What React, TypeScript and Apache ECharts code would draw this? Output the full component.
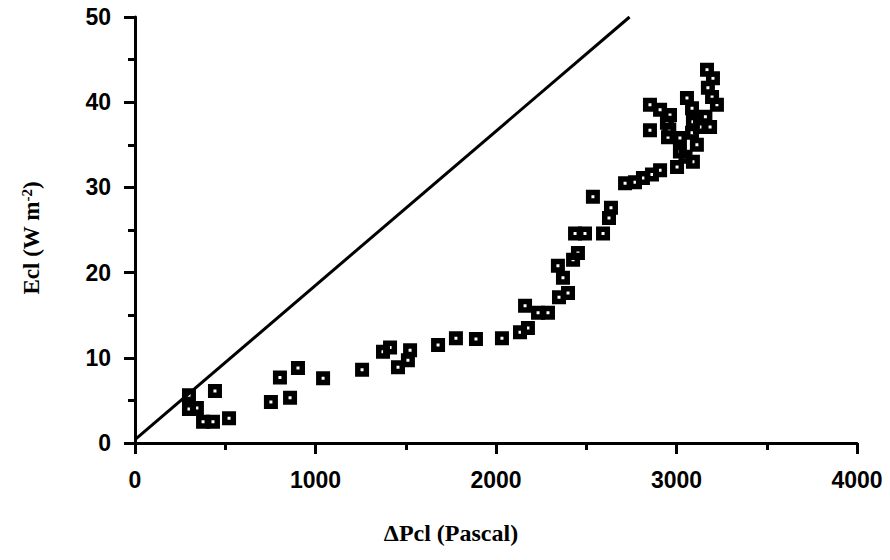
import React, { useEffect, useRef } from "react";
import * as echarts from "echarts";

const xTicks = [0, 1000, 2000, 3000, 4000];
const yTicks = [0, 10, 20, 30, 40, 50];

const pressure = [
  299, 299, 343, 443, 377, 432, 521, 753, 859, 803, 903, 1042,
  1258, 1374, 1413, 1457, 1512, 1524, 1679, 1778, 1889, 2033, 2133, 2177,
  2161, 2233, 2288, 2349, 2399, 2371, 2343, 2427, 2454, 2438, 2493, 2593,
  2626, 2637, 2537,
  2715, 2770, 2814, 2864, 2909, 3003, 3091, 3019, 3113, 3019, 3086, 3130,
  3186, 3091, 3086, 3058, 2853, 2909, 2964, 2947, 2853, 2953, 3169, 3202,
  3174, 3197, 3224, 3160, 3050, 2960,
];
const energy = [
  5.6, 4.0, 4.1, 6.1, 2.5, 2.5, 2.9, 4.8, 5.3, 7.7, 8.8, 7.6,
  8.6, 10.7, 11.2, 8.9, 9.7, 10.9, 11.5, 12.3, 12.2, 12.3, 13.0, 13.5,
  16.1, 15.3, 15.3, 17.1, 17.6, 19.4, 20.8, 21.5, 22.3, 24.6, 24.6, 24.6,
  26.4, 27.6, 28.9,
  30.5, 30.6, 31.1, 31.5, 32.0, 32.4, 33.0, 34.2, 35.0, 35.8, 36.4, 37.1,
  37.1, 37.7, 39.3, 40.5, 39.7, 39.1, 38.5, 37.6, 36.7, 35.9, 43.8, 42.8,
  41.7, 40.6, 39.7, 38.3, 33.6, 36.8,
];
const lineX = [0, 2740];
const lineY = [0.4, 50];

const boxSymbol = "path://M0,0L14,0L14,14L0,14ZM5.5,5.5L5.5,8.5L8.5,8.5L8.5,5.5Z";

export default function App() {
  const ref = useRef<HTMLDivElement>(null);
  useEffect(() => {
    if (!ref.current) return;
    const chart = echarts.init(ref.current, null, { renderer: "svg" });
    const tickFont = {
      fontFamily: "Liberation Sans",
      fontWeight: "bold" as const,
      fontSize: 23,
      color: "#000",
      formatter: (v: number) => String(v),
    };
    chart.setOption({
      animation: false,
      backgroundColor: "#fff",
      grid: { left: 135, right: 33, top: 17, bottom: 117, containLabel: false },
      xAxis: {
        type: "value",
        min: xTicks[0],
        max: xTicks[xTicks.length - 1],
        interval: 1000,
        axisLine: { lineStyle: { color: "#000", width: 3 } },
        axisTick: { show: true, length: 11, lineStyle: { color: "#000", width: 3 } },
        minorTick: { show: true, splitNumber: 2, length: 7, lineStyle: { color: "#000", width: 3 } },
        splitLine: { show: false },
        axisLabel: { ...tickFont, margin: 25 },
      },
      yAxis: {
        type: "value",
        min: yTicks[0],
        max: yTicks[yTicks.length - 1],
        interval: 10,
        axisLine: { lineStyle: { color: "#000", width: 3 } },
        axisTick: { show: true, length: 11, lineStyle: { color: "#000", width: 3 } },
        minorTick: { show: true, splitNumber: 2, length: 7, lineStyle: { color: "#000", width: 3 } },
        splitLine: { show: false },
        axisLabel: { ...tickFont, margin: 24 },
      },
      graphic: [
        {
          type: "text",
          x: 451,
          y: 533,
          style: {
            text: "ΔPcl (Pascal)",
            fontFamily: "Liberation Serif",
            fontWeight: "bold",
            fontSize: 24,
            fill: "#000",
            align: "center",
            verticalAlign: "middle",
          },
        },
        {
          type: "text",
          x: 31,
          y: 238,
          rotation: Math.PI / 2,
          style: {
            text: "Ecl (W m{sup|-2})",
            fontFamily: "Liberation Serif",
            fontWeight: "bold",
            fontSize: 23,
            fill: "#000",
            align: "center",
            verticalAlign: "middle",
            rich: {
              sup: {
                fontFamily: "Liberation Serif",
                fontWeight: "bold",
                fontSize: 15,
                verticalAlign: "top",
                padding: [0, 0, 9, 0],
              },
            },
          },
        },
      ],
      series: [
        {
          type: "line",
          data: lineX.map((x, i) => [x, lineY[i]]),
          showSymbol: false,
          symbol: "none",
          lineStyle: { color: "#000", width: 3 },
          z: 2,
        },
        {
          type: "scatter",
          data: pressure.map((x, i) => [x, energy[i]]),
          symbol: boxSymbol,
          symbolSize: 14,
          itemStyle: { color: "#000", opacity: 1 },
          z: 3,
        },
      ],
    });
    return () => chart.dispose();
  }, []);
  return <div ref={ref} style={{ width: 890, height: 560, margin: -8 }} />;
}
